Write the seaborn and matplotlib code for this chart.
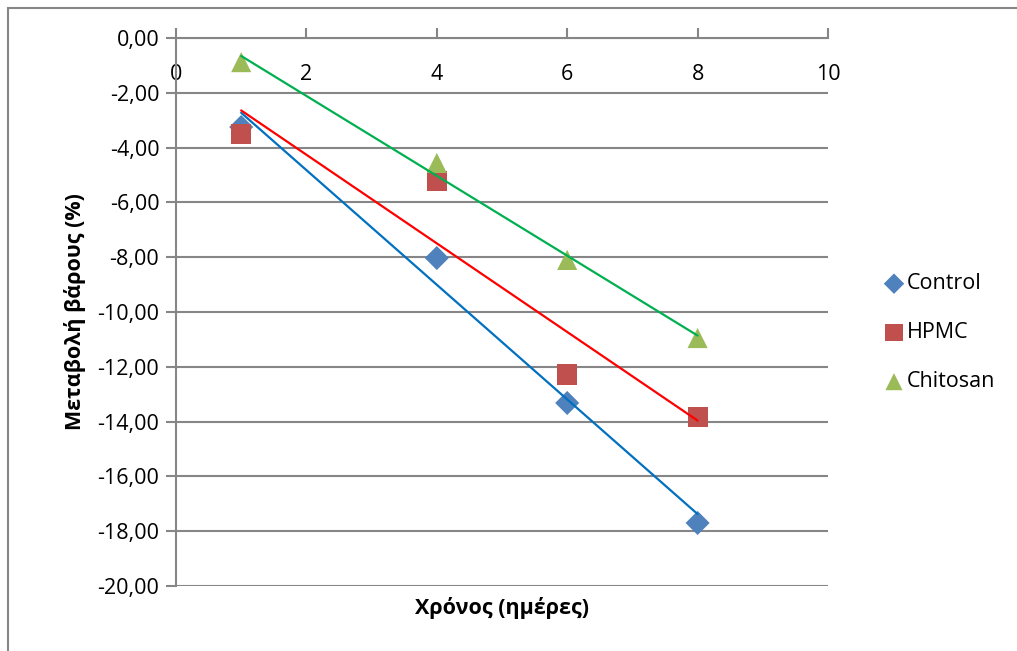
import matplotlib
matplotlib.use("Agg")
import matplotlib.pyplot as plt
import matplotlib.ticker as mticker
from matplotlib.patches import Rectangle
import numpy as np
import pandas as pd
import seaborn as sns

# Measurement days and weight change (%) for each coating
days = [1, 4, 6, 8]
control = [-3.25, -8.03, -13.32, -17.70]
hpmc = [-3.50, -5.22, -12.28, -13.83]
chitosan = [-0.88, -4.56, -8.10, -10.95]

series_names = ["Control", "HPMC", "Chitosan"]
x_ticks = [0, 2, 4, 6, 8, 10]
y_ticks = [0, -2, -4, -6, -8, -10, -12, -14, -16, -18, -20]

df = pd.DataFrame({
    "day": days * 3,
    "change": control + hpmc + chitosan,
    "series": [n for n in series_names for _ in days],
})

sns.set_theme(style="white")
plt.rcParams["font.family"] = ["Open Sans", "DejaVu Sans"]
plt.rcParams["text.color"] = "black"
plt.rcParams["axes.labelcolor"] = "black"
plt.rcParams["xtick.color"] = "black"
plt.rcParams["ytick.color"] = "black"

marker_colors = {"Control": "#4F81BD", "HPMC": "#C0504D", "Chitosan": "#9BBB59"}
line_colors = {"Control": "#0070C0", "HPMC": "#FF0000", "Chitosan": "#00B050"}
markers = {"Control": "D", "HPMC": "s", "Chitosan": "^"}
sizes = {"Control": 150, "HPMC": 210, "Chitosan": 210}

fig = plt.figure(figsize=(10.17, 6.51), dpi=100)
ax = fig.add_axes([176 / 1017, 1 - 586 / 651, (828 - 176) / 1017, (586 - 38) / 651])

# Horizontal gridlines
for yv in y_ticks:
    ax.axhline(yv, color="#868686", lw=1.5, zorder=0)

# Linear trendlines
for name in series_names:
    sub = df[df["series"] == name]
    sns.regplot(data=sub, x="day", y="change", ax=ax, scatter=False, ci=None,
                truncate=True, line_kws={"color": line_colors[name], "lw": 1.6, "zorder": 3})

# Data markers
for name in series_names:
    sub = df[df["series"] == name]
    ax.scatter(sub["day"], sub["change"], marker=markers[name], s=sizes[name],
               color=marker_colors[name], edgecolor="none", zorder=2, label=name)

ax.set_xlim(0, 10)
ax.set_ylim(-20, 0)
ax.set_xticks(x_ticks)
ax.set_yticks(y_ticks)
ax.yaxis.set_major_formatter(mticker.FuncFormatter(
    lambda v, p: f"{v:.2f}".replace(".", ",").replace("-0,00", "0,00")))
ax.set_xlabel("")

for s in ["top", "right"]:
    ax.spines[s].set_visible(False)
ax.spines["bottom"].set_position(("data", 0))
ax.spines["bottom"].set_color("#868686")
ax.spines["bottom"].set_linewidth(1.5)
ax.spines["left"].set_color("#868686")
ax.spines["left"].set_linewidth(1.5)

ax.tick_params(axis="x", direction="in", length=7, width=1.5, color="#868686",
               labelsize=15.5, pad=19, bottom=True, labelcolor="black")
ax.tick_params(axis="y", direction="out", length=7, width=1.5, color="#868686",
               labelsize=15.5, pad=5, left=True, labelcolor="black")

ax.set_ylabel("Μεταβολή βάρους (%)", fontsize=15.5, fontweight="bold", labelpad=8)
fig.text((176 + 828) / 2 / 1017, 1 - 608 / 651, "Χρόνος (ημέρες)", ha="center", va="center",
         fontsize=15.5, fontweight="bold")

leg = ax.legend(loc="center left", bbox_to_anchor=(1.055, 0.462), frameon=False,
                fontsize=15.5, handletextpad=0.1, labelspacing=1.3, markerscale=0.85,
                handlelength=1.0)

# Chart area border
fig.patches.append(Rectangle((8 / 1017, -0.1), 1.2, 1 - 8 / 651 + 0.1,
                             transform=fig.transFigure, fill=False,
                             edgecolor="#868686", lw=1.5))

fig.savefig("out.png", dpi=100, facecolor="white")
